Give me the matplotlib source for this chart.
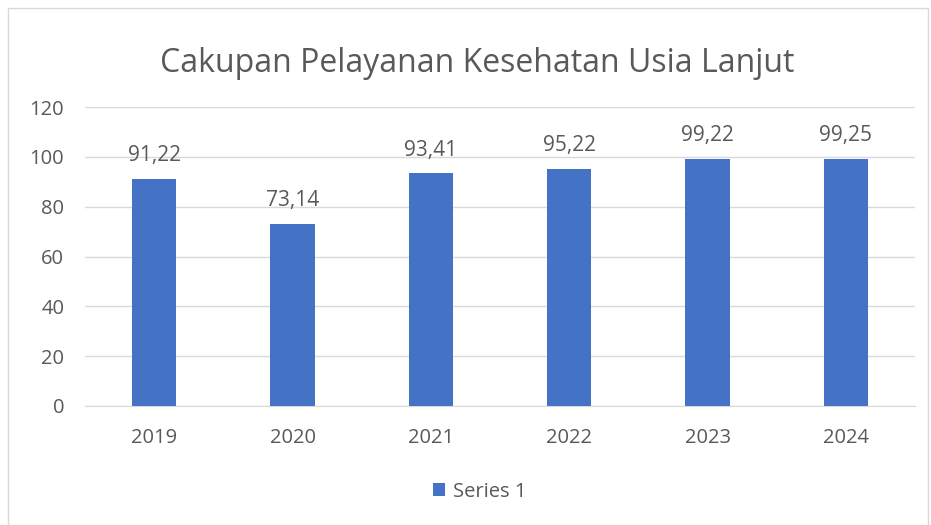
import matplotlib.pyplot as plt
from matplotlib.patches import Rectangle

# data
years = ['2019', '2020', '2021', '2022', '2023', '2024']
values = [91.22, 73.14, 93.41, 95.22, 99.22, 99.25]
value_labels = ['91,22', '73,14', '93,41', '95,22', '99,22', '99,25']
y_ticks = [0, 20, 40, 60, 80, 100, 120]

bar_color = '#4472C4'
text_color = '#595959'
grid_color = '#D9D9D9'

plt.rcParams['font.family'] = ['Open Sans', 'DejaVu Sans']

fig = plt.figure(figsize=(9.31, 5.25), dpi=100)
ax = fig.add_axes([0.0913, 0.2267, 0.8917, 0.5693])

x = range(len(years))
ax.bar(x, values, width=0.32, color=bar_color, label='Series 1', zorder=3)
for xi, v, lab in zip(x, values, value_labels):
    ax.annotate(lab, (xi, v), xytext=(0, 9), textcoords='offset points',
                ha='center', va='bottom', fontsize=15, color=text_color)

ax.set_xlim(-0.5, len(years) - 0.5)
ax.set_ylim(0, 120)
ax.set_yticks(y_ticks)
ax.set_xticks(list(x))
ax.set_xticklabels(years)
ax.tick_params(axis='both', length=0, labelsize=14.5, labelcolor=text_color)
ax.tick_params(axis='x', pad=16)
ax.tick_params(axis='y', pad=15)
ax.grid(axis='y', color=grid_color, linewidth=1, zorder=0)
for s in ['top', 'right', 'left']:
    ax.spines[s].set_visible(False)
ax.spines['bottom'].set_color(grid_color)

fig.text(0.513, 1 - 72 / 525, 'Cakupan Pelayanan Kesehatan Usia Lanjut', ha='center', va='baseline',
         fontsize=23, color=text_color)

fig.legend(loc='center', bbox_to_anchor=(0.515, 0.063), frameon=False, fontsize=14.5,
           labelcolor=text_color, handlelength=0.6, handleheight=0.6, handletextpad=0.4)

# chart border
fig.patches.append(Rectangle((8 / 931, -0.01), 920 / 931, 1 - 8 / 525 + 0.01, transform=fig.transFigure,
                             fill=False, edgecolor='#D9D9D9', linewidth=1))

fig.savefig('out.png', dpi=100)
